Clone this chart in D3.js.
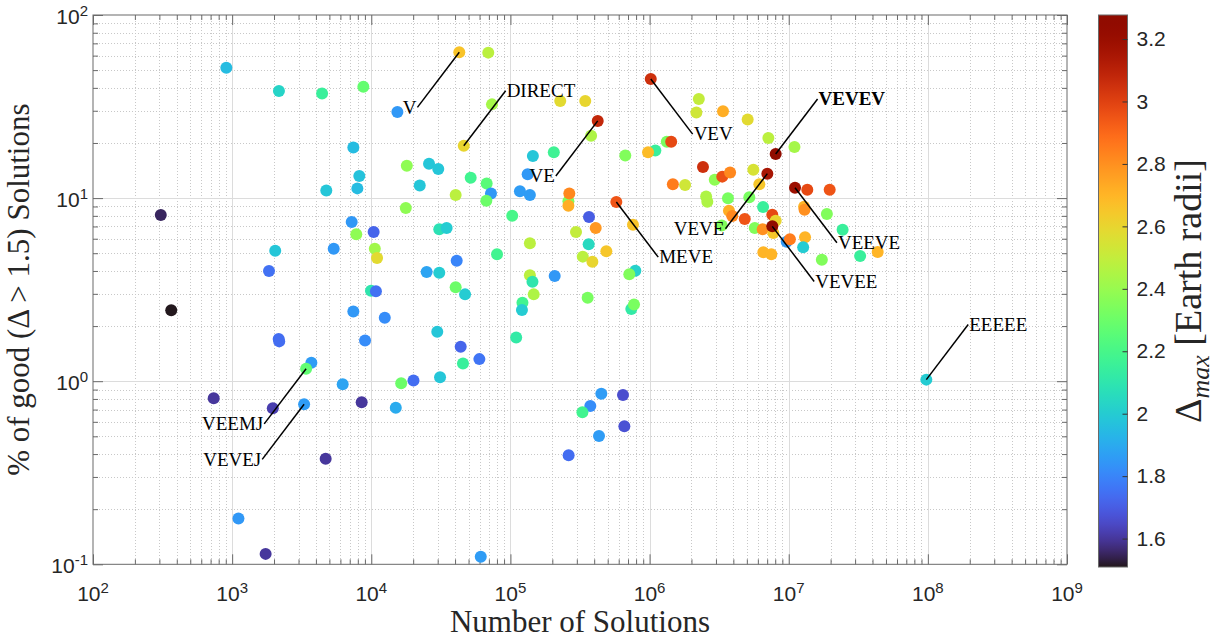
<!DOCTYPE html>
<html>
<head>
<meta charset="utf-8">
<script src="https://cdn.jsdelivr.net/npm/d3@7"></script>
<style>
  body { margin: 0; background: #fff; }
  svg { display: block; }
</style>
</head>
<body>
<svg id="chart" width="1218" height="638"></svg>
<script>
// ---- Sequence families: number of solutions, share of good solutions (%), max Δ ----
const solutions = [
  908, 2170, 4430, 8770, 15400, 7430, 18000, 8200, 4750, 7940,
  22300, 307, 17700, 7230, 10400, 7800, 2040, 5370, 10600, 11000,
  1840, 9950, 10800, 365, 7430, 12500, 2160, 2180, 9020, 3710,
  6230, 16400, 20100, 737, 1960, 8530, 15000, 4700, 1110, 1740,
  29800, 43900, 45600, 59800, 31200, 110000, 122000, 121000, 359000, 739000,
  773000, 450000, 644000, 375000, 329000, 659000, 433000, 262000, 61200,
  69300, 73700, 228000, 345000, 380000, 2260000, 2170000, 3370000, 5070000, 7140000, 11000000,
  26000, 30300, 40400, 51800, 67500, 72500, 67100, 145000, 205000, 133000,
  117000, 138000, 103000, 30800, 34800, 80100, 41100, 25000, 30800, 40400,
  47200, 138000, 138000, 144000, 147000, 208000,
  261000, 265000, 261000, 367000, 410000, 296000, 365000, 489000, 331000, 388000,
  790000, 715000, 669000, 1100000, 975000, 1330000, 1430000, 760000,
  2420000, 1470000, 1800000, 2940000, 3330000, 3790000, 5570000, 6150000, 2550000, 2600000,
  3660000, 5210000, 6540000, 3720000, 3930000, 4830000, 7620000, 8060000, 5700000, 6500000,
  7750000, 6570000, 7500000, 9670000, 10200000, 13600000, 19700000, 12900000, 13000000, 18800000,
  24400000, 13100000, 12700000, 17300000, 32600000, 43600000, 3300000
];
const goodPercent = [
  51.5, 38.5, 37.3, 40.6, 29.5, 18.9, 15.0, 13.2, 11.0, 11.3,
  11.7, 8.09, 8.83, 7.40, 6.53, 6.34, 5.16, 5.29, 5.29, 4.71,
  4.00, 3.12, 3.10, 2.44, 2.40, 2.22, 1.70, 1.65, 1.67, 1.26,
  0.962, 0.974, 1.01, 0.806, 0.711, 0.767, 0.717, 0.377, 0.178, 0.114,
  1.86, 1.54, 1.25, 1.32, 1.05, 1.73, 2.68, 2.45, 2.86, 2.48,
  2.62, 0.855, 0.841, 0.732, 0.676, 0.567, 0.502, 0.394, 0.110,
  62.3, 32.5, 33.9, 33.9, 21.9, 34.8, 29.3, 29.8, 26.9, 21.3, 19.0,
  15.4, 14.4, 10.4, 12.9, 12.0, 10.6, 9.68, 17.0, 17.8, 13.5,
  10.9, 10.4, 8.01, 6.75, 6.87, 4.93, 4.55, 3.95, 3.91, 3.26,
  2.98, 5.67, 3.79, 3.49, 2.98, 3.75,
  9.61, 10.6, 9.09, 7.88, 6.87, 6.53, 5.59, 5.12, 4.79, 4.49,
  4.01, 3.84, 17.1, 18.2, 17.8, 20.3, 20.3, 7.16,
  14.8, 11.9, 11.8, 12.6, 13.1, 13.8, 14.3, 11.9, 10.2, 9.56,
  9.97, 10.1, 8.94, 8.54, 7.98, 7.69, 8.12, 7.53, 6.87, 6.75,
  6.45, 5.06, 4.93, 5.78, 5.96, 11.1, 11.1, 8.97, 8.64, 8.19,
  6.72, 6.11, 5.39, 4.61, 4.83, 5.08, 7.09
];
const deltaMax = [
  1.95, 2.03, 2.15, 2.28, 1.85, 1.95, 2.38, 1.97, 1.98, 1.95,
  1.98, 1.55, 2.38, 1.85, 1.72, 2.38, 1.98, 1.85, 2.42, 2.58,
  1.75, 2.10, 1.75, 1.51, 1.85, 1.82, 1.74, 1.74, 1.82, 1.86,
  1.88, 2.30, 1.74, 1.60, 1.62, 1.60, 1.90, 1.60, 1.85, 1.60,
  1.98, 1.72, 2.15, 1.76, 1.98, 2.12, 2.18, 2.00, 2.33, 2.12,
  2.33, 1.86, 1.66, 1.82, 2.18, 1.67, 1.86, 1.74, 1.86,
  2.48, 2.43, 2.58, 2.60, 2.45, 2.50, 2.53, 2.72, 2.58, 2.48, 2.43,
  1.98, 1.98, 2.48, 2.18, 2.25, 1.85, 2.30, 1.98, 2.17, 1.85,
  1.86, 1.86, 2.20, 2.08, 2.00, 2.18, 1.80, 1.88, 2.00, 2.30,
  2.00, 2.48, 2.48, 2.10, 2.45, 1.85,
  2.35, 2.82, 2.72, 1.70, 2.78, 2.50, 2.05, 2.65, 2.48, 2.60,
  2.02, 2.35, 2.35, 2.15, 2.68, 2.33, 2.98, 2.66,
  3.05, 2.85, 2.53, 2.38, 2.96, 2.82, 2.55, 2.65, 2.45, 2.45,
  2.33, 2.33, 2.15, 2.72, 2.82, 2.95, 2.98, 2.60, 2.35, 2.80,
  2.65, 2.70, 2.70, 1.85, 2.85, 2.98, 2.95, 2.70, 2.80, 2.35,
  2.15, 2.70, 2.00, 2.35, 2.15, 2.70, 2.35
];

// ---- Highlighted sequences ----
const namedSequences = ["V", "DIRECT", "VE", "VEV", "MEVE", "VEVE", "VEVEV", "VEEVE", "VEVEE", "EEEEE", "VEEMJ", "VEVEJ"];
const namedSolutions = [42900, 46200, 424000, 1020000, 577000, 7020000, 8060000, 11100000, 7620000, 97500000, 3400, 3290];
const namedPercent   = [62.6, 19.3, 26.4, 44.7, 9.52, 13.6, 17.4, 11.4, 7.01, 1.02, 1.17, 0.748];
const namedDelta     = [2.66, 2.60, 3.08, 3.05, 2.95, 3.15, 3.27, 3.19, 3.27, 2.00, 2.27, 1.86];
// callout direction (label placed a factor of 2 away along each axis)
const calloutDirX = [-1, 1, -1, 1, 1, -1, 1, 1, 1, 1, -1, -1];
const calloutDirY = [-1, 1, -1, -1, -1, -1, 1, -1, -1, 1, -1, -1];
const boldSequence = "VEVEV";

// ---- Axis / colour-bar tick values ----
const xDecades = [2, 3, 4, 5, 6, 7, 8, 9];
const yDecades = [-1, 0, 1, 2];
const colorTicks = [1.6, 1.8, 2.0, 2.2, 2.4, 2.6, 2.8, 3.0, 3.2];
const colorRange = [1.509, 3.277];

// ---- Layout ----
const plot = { left: 93, right: 1067, top: 15, bottom: 564.3 };
const cbar = { x: 1098.5, width: 29, top: 15, bottom: 567 };
const axisColor = "#6a6a6a";
const textColor = "#262626";
const sansFont = "'Liberation Sans', Arial, sans-serif";
const serifFont = "'Liberation Serif', 'Times New Roman', serif";

const svg = d3.select("#chart");

const x = d3.scaleLog().domain([1e2, 1e9]).range([plot.left, plot.right]);
const y = d3.scaleLog().domain([1e-1, 1e2]).range([plot.bottom, plot.top]);
const color = d3.scaleSequential(d3.interpolateTurbo).domain(colorRange);

const majorX = xDecades.map(e => Math.pow(10, e));
const majorY = yDecades.map(e => Math.pow(10, e));
const minorX = [], minorY = [];
xDecades.slice(0, -1).forEach(e => { for (let k = 2; k <= 9; k++) minorX.push(k * Math.pow(10, e)); });
yDecades.slice(0, -1).forEach(e => { for (let k = 2; k <= 9; k++) minorY.push(k * Math.pow(10, e)); });

const crisp = v => Math.round(v) + 0.5;

// ---- Grid ----
const grid = svg.append("g");
grid.selectAll(".gxm").data(minorX).join("line")
  .attr("x1", d => crisp(x(d))).attr("x2", d => crisp(x(d)))
  .attr("y1", plot.top).attr("y2", plot.bottom)
  .attr("stroke", "#c8c8c8").attr("stroke-dasharray", "1,2");
grid.selectAll(".gym").data(minorY).join("line")
  .attr("y1", d => crisp(y(d))).attr("y2", d => crisp(y(d)))
  .attr("x1", plot.left).attr("x2", plot.right)
  .attr("stroke", "#c8c8c8").attr("stroke-dasharray", "1,2");
grid.selectAll(".gxM").data(majorX.slice(1, -1)).join("line")
  .attr("x1", d => crisp(x(d))).attr("x2", d => crisp(x(d)))
  .attr("y1", plot.top).attr("y2", plot.bottom)
  .attr("stroke", "#dcdcdc");
grid.selectAll(".gyM").data(majorY.slice(1, -1)).join("line")
  .attr("y1", d => crisp(y(d))).attr("y2", d => crisp(y(d)))
  .attr("x1", plot.left).attr("x2", plot.right)
  .attr("stroke", "#dcdcdc");

// ---- Axes ticks (inward, on all four sides) ----
function tickAxis(axis, transform) {
  const g = svg.append("g").attr("transform", transform).call(axis);
  g.select(".domain").remove();
  g.selectAll("text").remove();
  g.selectAll("line").attr("stroke", axisColor);
  return g;
}
tickAxis(d3.axisBottom(x).tickValues(majorX).tickSize(-10), `translate(0,${plot.bottom})`);
tickAxis(d3.axisBottom(x).tickValues(minorX).tickSize(-5), `translate(0,${plot.bottom})`);
tickAxis(d3.axisTop(x).tickValues(majorX).tickSize(-10), `translate(0,${plot.top})`);
tickAxis(d3.axisTop(x).tickValues(minorX).tickSize(-5), `translate(0,${plot.top})`);
tickAxis(d3.axisLeft(y).tickValues(majorY).tickSize(-10), `translate(${plot.left},0)`);
tickAxis(d3.axisLeft(y).tickValues(minorY).tickSize(-5), `translate(${plot.left},0)`);
tickAxis(d3.axisRight(y).tickValues(majorY).tickSize(-10), `translate(${plot.right},0)`);
tickAxis(d3.axisRight(y).tickValues(minorY).tickSize(-5), `translate(${plot.right},0)`);

svg.append("rect")
  .attr("x", plot.left).attr("y", plot.top)
  .attr("width", plot.right - plot.left).attr("height", plot.bottom - plot.top)
  .attr("fill", "none").attr("stroke", axisColor).attr("stroke-width", 1);

// ---- Tick labels as powers of ten ----
function powerLabel(sel, exp) {
  sel.append("tspan").text("10");
  sel.append("tspan").attr("dy", -8).attr("font-size", 15).text(exp);
}
xDecades.forEach(e => {
  svg.append("text")
    .attr("x", x(Math.pow(10, e))).attr("y", 601)
    .attr("text-anchor", "middle")
    .attr("font-family", sansFont).attr("font-size", 21).attr("fill", textColor)
    .call(powerLabel, e);
});
yDecades.forEach(e => {
  svg.append("text")
    .attr("x", plot.left - 5).attr("y", y(Math.pow(10, e)) + 9)
    .attr("text-anchor", "end")
    .attr("font-family", sansFont).attr("font-size", 21).attr("fill", textColor)
    .call(powerLabel, e);
});

// ---- Axis titles ----
svg.append("text")
  .attr("x", (plot.left + plot.right) / 2).attr("y", 632)
  .attr("text-anchor", "middle")
  .attr("font-family", serifFont).attr("font-size", 31).attr("fill", textColor)
  .text("Number of Solutions");
svg.append("text")
  .attr("transform", `translate(29,${(plot.top + plot.bottom) / 2}) rotate(-90)`)
  .attr("text-anchor", "middle")
  .attr("font-family", serifFont).attr("font-size", 31).attr("fill", textColor)
  .text("% of good (Δ > 1.5) Solutions");

// ---- Scatter points ----
const points = solutions.map((s, i) => ({ s, p: goodPercent[i], d: deltaMax[i] }));
const named = namedSequences.map((name, i) => ({
  name, s: namedSolutions[i], p: namedPercent[i], d: namedDelta[i],
  dx: calloutDirX[i], dy: calloutDirY[i]
}));

svg.append("g").selectAll("circle").data(points.concat(named)).join("circle")
  .attr("cx", d => x(d.s)).attr("cy", d => y(d.p))
  .attr("r", 6)
  .attr("fill", d => color(d.d));

// ---- Callouts ----
const callouts = svg.append("g");
named.forEach(d => {
  const px = x(d.s), py = y(d.p);
  const lx = x(d.s * Math.pow(2, d.dx)), ly = y(d.p * Math.pow(2, d.dy));
  callouts.append("line")
    .attr("x1", px).attr("y1", py).attr("x2", lx).attr("y2", ly)
    .attr("stroke", "#000").attr("stroke-width", 1.5);
  callouts.append("text")
    .attr("x", lx + (d.dx > 0 ? 1 : -1)).attr("y", ly).attr("dy", "0.33em")
    .attr("text-anchor", d.dx > 0 ? "start" : "end")
    .attr("font-family", serifFont).attr("font-size", 19)
    .attr("font-weight", d.name === boldSequence ? "bold" : "normal")
    .attr("fill", "#000")
    .text(d.name);
});

// ---- Colour bar ----
const cScale = d3.scaleLinear().domain(colorRange).range([cbar.bottom, cbar.top]);
const grad = svg.append("defs").append("linearGradient")
  .attr("id", "turbo").attr("x1", 0).attr("y1", 1).attr("x2", 0).attr("y2", 0);
d3.range(0, 1.0001, 1 / 64).forEach(t => {
  grad.append("stop").attr("offset", t).attr("stop-color", d3.interpolateTurbo(t));
});
svg.append("rect")
  .attr("x", cbar.x).attr("y", cbar.top)
  .attr("width", cbar.width).attr("height", cbar.bottom - cbar.top)
  .attr("fill", "url(#turbo)").attr("stroke", axisColor).attr("stroke-width", 1);

const cAxis = svg.append("g")
  .attr("transform", `translate(${cbar.x + cbar.width},0)`)
  .call(d3.axisRight(cScale).tickValues(colorTicks).tickSize(-5).tickPadding(9)
    .tickFormat(d => String(+d.toFixed(1))));
cAxis.select(".domain").remove();
cAxis.selectAll("line").attr("stroke", "#333");
cAxis.selectAll("text")
  .attr("font-family", sansFont).attr("font-size", 21).attr("fill", textColor);

const cTitle = svg.append("text")
  .attr("transform", `translate(1201,${(cbar.top + cbar.bottom) / 2}) rotate(-90)`)
  .attr("text-anchor", "middle")
  .attr("font-family", serifFont).attr("font-size", 38).attr("fill", textColor);
cTitle.append("tspan").text("Δ");
cTitle.append("tspan").attr("font-style", "italic").attr("font-size", 26).attr("dy", 8).text("max");
cTitle.append("tspan").attr("dy", -8).text(" [Earth radii]");
</script>
</body>
</html>
